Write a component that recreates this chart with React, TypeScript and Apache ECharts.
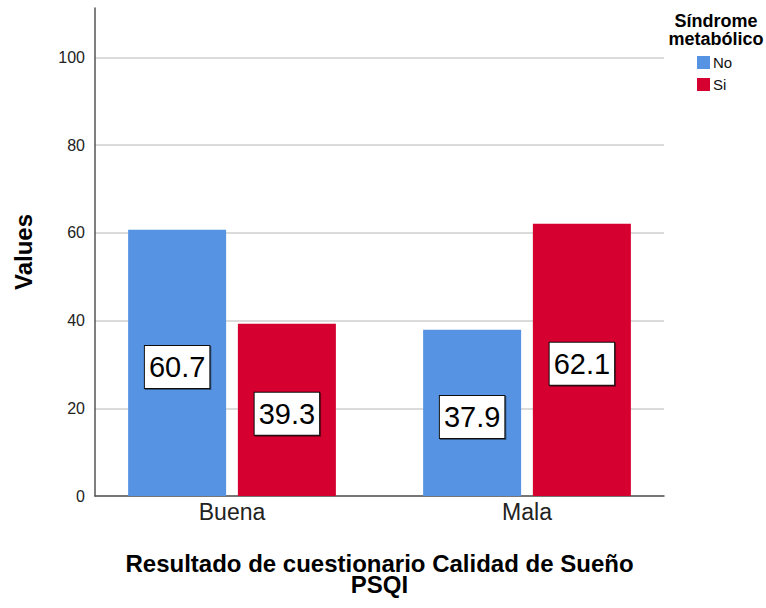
import React, { useEffect, useRef } from "react";
import * as echarts from "echarts";

// Sleep-quality result (PSQI) by metabolic-syndrome status, percentages
const categories = ["Buena", "Mala"];
const seriesNames = ["No", "Si"];
const valuesNo = [60.7, 37.9];
const valuesSi = [39.3, 62.1];
const yTicks = [0, 20, 40, 60, 80, 100];

const FONT = "'Liberation Sans', Arial, sans-serif";
const BLUE = "#5694E3";
const RED = "#D5002F";

export default function App() {
  const ref = useRef<HTMLDivElement>(null);

  useEffect(() => {
    document.body.style.margin = "0";
    if (!ref.current) return;
    const chart = echarts.init(ref.current, undefined, { renderer: "svg" });

    const yMax = 111.3;
    const gridTop = 8;
    const gridBottom = 112;

    const valueLabel = {
      show: true,
      position: "inside" as const,
      offset: [0, 4],
      formatter: (p: any) => p.value.toFixed(1),
      fontFamily: FONT,
      fontSize: 29,
      lineHeight: 30,
      color: "#000",
      backgroundColor: "#fff",
      borderColor: "#111",
      borderWidth: 1,
      padding: [6, 4, 6, 4],
      shadowColor: "rgba(0,0,0,0.45)",
      shadowOffsetX: 1,
      shadowOffsetY: 1,
      shadowBlur: 1,
    };

    chart.setOption({
      animation: false,
      textStyle: { fontFamily: FONT },
      grid: [
        { left: 95, right: 102, top: gridTop, bottom: gridBottom },
        { left: 84.5, right: 91.5, top: gridTop, bottom: gridBottom },
      ],
      xAxis: [
        {
          type: "category",
          gridIndex: 0,
          data: categories,
          axisLine: { show: true, lineStyle: { color: "#555", width: 1.5 } },
          axisTick: { show: false },
          axisLabel: { show: false },
          name: "Resultado de cuestionario Calidad de Sueño\nPSQI",
          nameLocation: "middle",
          nameGap: 57,
          nameTextStyle: {
            fontFamily: FONT,
            fontSize: 24,
            fontWeight: "bold",
            color: "#000",
            lineHeight: 21,
            verticalAlign: "top",
          },
        },
        {
          type: "category",
          gridIndex: 1,
          data: categories,
          axisLine: { show: false },
          axisTick: { show: false },
          axisLabel: {
            fontFamily: FONT,
            fontSize: 23,
            color: "#222",
            margin: 4,
          },
        },
      ],
      yAxis: [
        {
          type: "value",
          gridIndex: 0,
          min: 0,
          max: yMax,
          interval: 20,
          axisLine: { show: true, lineStyle: { color: "#555", width: 1.5 } },
          axisTick: { show: false },
          axisLabel: {
            fontFamily: FONT,
            fontSize: 16,
            color: "#222",
            margin: 10,
            showMaxLabel: false,
            formatter: (v: number) => (yTicks.includes(v) ? String(v) : ""),
          },
          splitLine: {
            show: true,
            showMaxLine: false,
            lineStyle: { color: "#CFCFCF", width: 1.5 },
          },
          name: "Values",
          nameLocation: "middle",
          nameGap: 60,
          nameRotate: 90,
          nameTextStyle: {
            fontFamily: FONT,
            fontSize: 24,
            fontWeight: "bold",
            color: "#000",
          },
        },
        {
          type: "value",
          gridIndex: 1,
          min: 0,
          max: yMax,
          interval: 20,
          show: false,
          splitLine: { show: false },
        },
      ],
      legend: {
        data: seriesNames,
        orient: "vertical",
        left: 697,
        top: 55,
        itemWidth: 13,
        itemHeight: 13,
        itemGap: 7,
        itemStyle: { borderWidth: 0 },
        icon: "rect",
        textStyle: { fontFamily: FONT, fontSize: 15, color: "#111", padding: [0, 0, 0, -2] },
        padding: 0,
      },
      graphic: [
        {
          type: "text",
          x: 716,
          y: 12,
          style: {
            text: "Síndrome\nmetabólico",
            fontFamily: FONT,
            fontSize: 18,
            fontWeight: "bold",
            lineHeight: 18,
            fill: "#000",
            textAlign: "center",
            textVerticalAlign: "top",
          },
        },
      ],
      series: [
        {
          name: seriesNames[0],
          type: "bar",
          xAxisIndex: 1,
          yAxisIndex: 1,
          data: valuesNo,
          barWidth: 98,
          barGap: "12%",
          itemStyle: { color: BLUE },
          label: valueLabel,
        },
        {
          name: seriesNames[1],
          type: "bar",
          xAxisIndex: 1,
          yAxisIndex: 1,
          data: valuesSi,
          barWidth: 98,
          barGap: "12%",
          itemStyle: { color: RED },
          label: valueLabel,
        },
      ],
    });

    return () => chart.dispose();
  }, []);

  return <div ref={ref} style={{ width: 766, height: 608 }} />;
}
